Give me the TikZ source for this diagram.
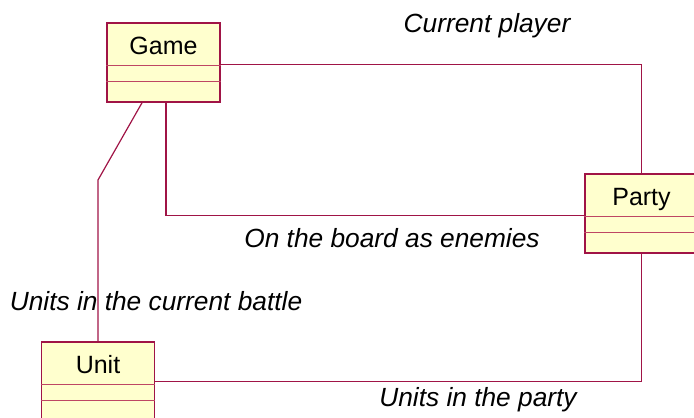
\documentclass[tikz,border=0pt]{standalone}
\usepackage{fontspec}
\setmainfont{Liberation Sans}
\usetikzlibrary{calc}
\definecolor{umlborder}{RGB}{160,20,70}
\definecolor{umlsep}{RGB}{190,70,100}
\definecolor{umlfill}{RGB}{255,255,206}
\tikzset{
  classbox/.style={draw=umlborder, fill=umlfill, line width=1.6pt,
    minimum width=113pt, minimum height=79pt, inner sep=0pt},
  sepline/.style={draw=umlsep, line width=1.3pt},
  assoc/.style={draw=umlborder, line width=1.2pt},
  classname/.style={anchor=base, font=\fontsize{25}{30}\selectfont},
  rolelabel/.style={font=\fontsize{26.3}{31}\selectfont\itshape, inner sep=0pt}
}
\newcommand{\classparts}[1]{%
  \draw[sepline] ([yshift=-43pt]#1.north west) -- ([yshift=-43pt]#1.north east);
  \draw[sepline] ([yshift=-59pt]#1.north west) -- ([yshift=-59pt]#1.north east);
}
\begin{document}
\begin{tikzpicture}[x=1pt, y=-1pt]
  \useasboundingbox (0,0) rectangle (694,418);
  \clip (0,0) rectangle (694,418);

  % classes
  \node[classbox] (game)  at (163.5, 62.5) {};
  \node[classbox] (party) at (641.5, 213.5) {};
  \node[classbox] (unit)  at (98, 381.5) {};
  \classparts{game}
  \classparts{party}
  \classparts{unit}
  \node[classname] (gamename)  at ([yshift=-32pt]game.north)  {Game};
  \node[classname] (partyname) at ([yshift=-32pt]party.north) {Party};
  \node[classname] (unitname)  at ([yshift=-32pt]unit.north)  {Unit};

  % associations
  \draw[assoc] ([yshift=-42pt]game.north east) -| (party.north);
  \draw[assoc] ([xshift=2.5pt]game.south) |- ([yshift=-2pt]party.west);
  \coordinate (bend) at (98,180);
  \draw[assoc] ([xshift=-21.5pt]game.south) -- (bend) -- (bend |- unit.north);
  \draw[assoc] (unit.east) -| (party.south);

  % role labels
  \node[rolelabel] (lcur)    at (487, 26)  {Current player};
  \node[rolelabel] (lboard)  at (392, 238) {On the board as enemies};
  \node[rolelabel] (lbattle) at (156, 301) {Units in the current battle};
  \node[rolelabel] (lparty)  at (478, 400) {Units in the party};
\end{tikzpicture}
\end{document}
